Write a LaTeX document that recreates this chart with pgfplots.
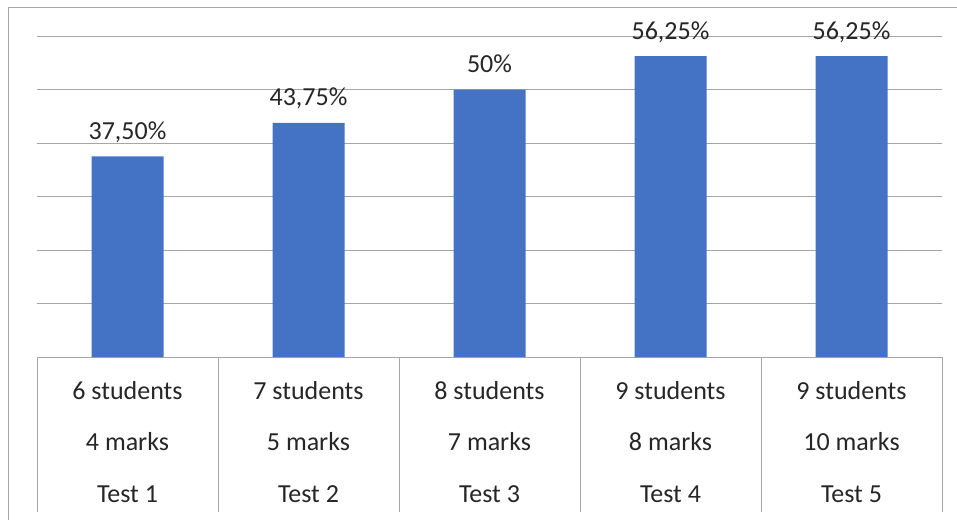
\documentclass[border=0pt]{standalone}
\usepackage{pgfplots}
\pgfplotsset{compat=1.18}
\usepackage{fontspec}
\setmainfont{Carlito}
\definecolor{barblue}{HTML}{4472C4}
\definecolor{gridgray}{HTML}{A6A6A6}
\definecolor{txt}{HTML}{262626}
\begin{document}
\begin{tikzpicture}
\useasboundingbox (-37pt,-162pt) rectangle (920pt,357pt);
\draw[gridgray, line width=1pt] (-28pt,-170pt) -- (-28pt,349pt) -- (930pt,349pt);
\begin{axis}[
  at={(0pt,0pt)}, anchor=south west,
  scale only axis, width=905pt, height=321pt,
  xmin=-0.5, xmax=4.5, ymin=0, ymax=60,
  ytick={0,10,...,60}, yticklabels={},
  ymajorgrids, grid style={gridgray, line width=1pt},
  axis line style={draw=none},
  major tick length=0pt,
  xtick=data,
  xticklabels={{6 students\\4 marks\\Test 1},{7 students\\5 marks\\Test 2},{8 students\\7 marks\\Test 3},{9 students\\8 marks\\Test 4},{9 students\\10 marks\\Test 5}},
  xticklabel style={font=\fontsize{26}{51.5}\selectfont, align=center, anchor=north, text=txt, inner sep=0pt, yshift=-24pt},
  extra x ticks={-0.5,0.5,1.5,2.5,3.5,4.5},
  extra x tick labels={},
  extra x tick style={major tick length=155pt, tick align=outside, tick style={gridgray, line width=1pt}},
  xtick pos=left, ytick pos=left,
  clip=false,
  ybar, bar width=72pt,
  point meta=explicit symbolic,
  nodes near coords,
  nodes near coords style={font=\fontsize{26}{30}\selectfont, text=txt, anchor=base, yshift=17pt},
]
\addplot[fill=barblue, draw=none] table[meta=label] {
x y label
0 37.5 37,50\%
1 43.75 43,75\%
2 50 50\%
3 56.25 56,25\%
4 56.25 56,25\%
};
\end{axis}
\end{tikzpicture}
\end{document}
